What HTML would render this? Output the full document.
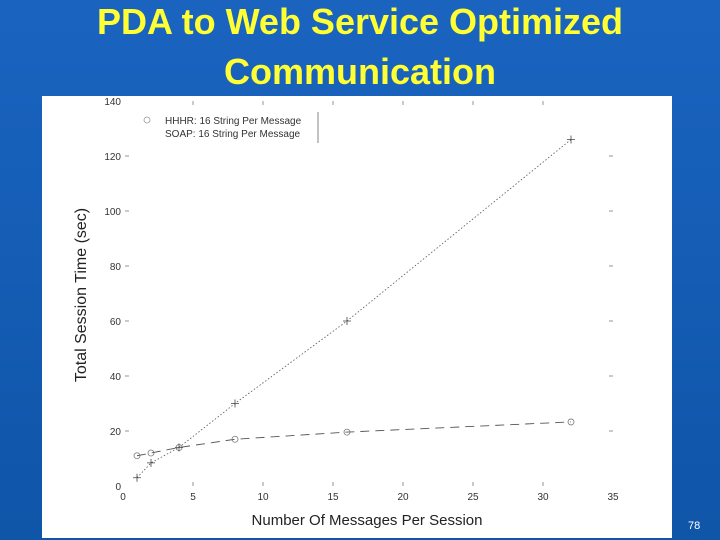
<!DOCTYPE html>
<html><head><meta charset="utf-8"><style>
body{margin:0;width:720px;height:540px;overflow:hidden;background:#1560b8;font-family:"Liberation Sans",sans-serif;}
#bg{position:absolute;left:0;top:0;width:720px;height:540px;background:linear-gradient(180deg,#1a64c0,#0f55a8);}
#title{position:absolute;left:0;top:-3px;width:720px;text-align:center;color:#ffff33;font-weight:bold;font-size:36px;line-height:50px;}
#num{position:absolute;left:688px;top:520px;color:#fff;font-size:11px;}
svg{position:absolute;left:0;top:0;}
</style></head><body>
<div id="bg"></div>
<div id="title">PDA to Web Service Optimized<br>Communication</div>
<svg width="720" height="540" id="chart">
<rect x="42" y="96" width="630" height="442" fill="#fff"/>
<g id="ax"></g>
<text x="86" y="295" transform="rotate(-90 86 295)" text-anchor="middle" font-size="16" fill="#222">Total Session Time (sec)</text>
<text x="367" y="525" text-anchor="middle" font-size="15" fill="#222">Number Of Messages Per Session</text>
<g>
<circle cx="147" cy="120" r="3" fill="none" stroke="#999" stroke-width="0.8"/>
<text x="165" y="124" font-size="10" fill="#333">HHHR: 16 String Per Message</text>
<text x="165" y="137" font-size="10" fill="#333">SOAP: 16 String Per Message</text>
<line x1="318" y1="112" x2="318" y2="143" stroke="#666" stroke-width="0.8"/>
</g>
</svg>
<div id="num">78</div>
<script>
const xTicks=[0,5,10,15,20,25,30,35];
const yTicks=[0,20,40,60,80,100,120,140];
const msgCounts=[1,2,4,8,16,32];
const hhhrTimes=[11,12,14,17,19.6,23.3];
const soapTimes=[3,8.4,14,30,60,126];
const X=v=>123+v*14, Y=v=>486-v*2.75;
const g=document.getElementById('ax'), ns='http://www.w3.org/2000/svg';
function mk(t,a){const e=document.createElementNS(ns,t);for(const k in a)e.setAttribute(k,a[k]);g.appendChild(e);return e;}
xTicks.forEach(v=>{
 const t=mk('text',{x:X(v),y:500,'text-anchor':'middle','font-size':10,fill:'#333'});t.textContent=v;
 
 
 if(v>0&&v<35){mk('line',{x1:X(v),x2:X(v),y1:Y(0)-4,y2:Y(0),stroke:'#666','stroke-width':0.7});mk('line',{x1:X(v),x2:X(v),y1:Y(140),y2:Y(140)+4,stroke:'#666','stroke-width':0.7});}
});
yTicks.forEach(v=>{
 const t=mk('text',{x:121,y:Y(v)+4,'text-anchor':'end','font-size':10,fill:'#333'});t.textContent=v;
 
 
 if(v>0&&v<140){mk('line',{x1:X(0)+2,x2:X(0)+6,y1:Y(v),y2:Y(v),stroke:'#666','stroke-width':0.7});mk('line',{x1:X(35)-4,x2:X(35),y1:Y(v),y2:Y(v),stroke:'#666','stroke-width':0.7});}
});
const sp=mk('polyline',{points:msgCounts.map((m,i)=>X(m)+','+Y(soapTimes[i])).join(' '),fill:'none',stroke:'#555','stroke-width':0.8,'stroke-dasharray':'1.5,2'});


const hp=mk('polyline',{points:msgCounts.map((m,i)=>X(m)+','+Y(hhhrTimes[i])).join(' '),fill:'none',stroke:'#555','stroke-width':0.9,'stroke-dasharray':'9,6'});


msgCounts.forEach((m,i)=>{
 const c=mk('circle',{cx:X(m),cy:Y(hhhrTimes[i]),r:3,fill:'none',stroke:'#777','stroke-width':0.8});
 
 
 const x=X(m),y=Y(soapTimes[i]);
 const p=mk('path',{d:`M${x-4},${y}H${x+4}M${x},${y-4}V${y+4}`,stroke:'#444','stroke-width':0.8});
 
 
});
</script>
</body></html>
